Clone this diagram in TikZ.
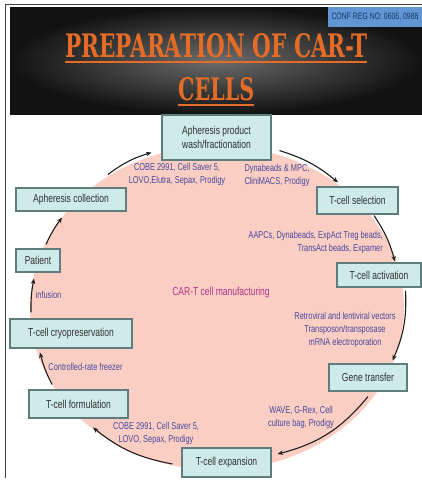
\documentclass[tikz,border=0pt]{standalone}
\usepackage{fontspec}
\usepackage{graphicx}
\usetikzlibrary{arrows.meta}
\newfontfamily\labf[FakeStretch=0.74]{Liberation Sans}
\newfontfamily\titlef{DejaVu Serif}
\definecolor{pinkc}{RGB}{250,206,194}
\definecolor{boxfill}{RGB}{206,234,233}
\definecolor{boxline}{RGB}{95,125,125}
\definecolor{boxtext}{RGB}{50,50,50}
\definecolor{labc}{RGB}{72,72,160}
\definecolor{magc}{RGB}{176,52,140}
\definecolor{arrc}{RGB}{30,30,30}
\definecolor{orangec}{RGB}{228,108,38}
\definecolor{confc}{RGB}{96,150,212}
\definecolor{conft}{RGB}{28,52,100}
\begin{document}
\begin{tikzpicture}[x=1pt,y=-1pt,
  box/.style={draw=boxline, fill=boxfill, line width=1.1pt, inner sep=0pt, text=boxtext,
    font=\labf\fontsize{11.5}{14}\selectfont, align=center},
  lab/.style={text=labc, font=\labf\fontsize{10}{13}\selectfont, align=center, inner sep=0pt},
  arr/.style={-{Stealth[length=5.5pt,width=4.5pt]}, line width=1.1pt, draw=arrc}]
\useasboundingbox (0,0) rectangle (422,480);
\fill[white] (0,0) rectangle (422,480);
% frame
\draw[line width=0.8pt, black!75] (5,478) -- (5,4) -- (422,4);
% header
\shade[inner color={rgb,255:red,108;green,108;blue,108}, outer color={rgb,255:red,18;green,18;blue,18}] (10,7) rectangle (422,114);
\node[fill=confc, minimum width=94pt, minimum height=20pt, inner sep=0pt] (conf) at (375,17)
  {\resizebox{87pt}{6.5pt}{\color{conft}\labf CONF REG NO: 0606, 0988}};
\node[anchor=base west, inner sep=0pt, text=orangec] (t1) at (65,57)
  {\resizebox{302pt}{24pt}{\titlef\bfseries PREPARATION OF CAR-T}};
\node[anchor=base west, inner sep=0pt, text=orangec] (t2) at (178,100)
  {\resizebox{76pt}{23pt}{\titlef\bfseries CELLS}};
\draw[orangec, line width=1.5pt] ([yshift=-5pt]t1.base west) -- ([yshift=-5pt]t1.base east);
\draw[orangec, line width=1.5pt] ([yshift=-5pt]t2.base west) -- ([yshift=-5pt]t2.base east);
% pink area
\fill[pinkc] (217,308) ellipse [x radius=187pt, y radius=162pt];
% boxes
\node[box, minimum width=109pt, minimum height=45pt] (prod) at (216.5,137.5) {Apheresis product\\wash/fractionation};
\node[box, minimum width=81pt, minimum height=27pt] (sel) at (357.5,200.5) {T-cell selection};
\node[box, minimum width=84pt, minimum height=24pt] (act) at (379,275) {T-cell activation};
\node[box, minimum width=78pt, minimum height=27pt] (gene) at (368,377.5) {Gene transfer};
\node[box, minimum width=89pt, minimum height=29pt] (exp) at (226.5,462.5) {T-cell expansion};
\node[box, minimum width=99pt, minimum height=28pt] (form) at (78.5,404) {T-cell formulation};
\node[box, minimum width=122pt, minimum height=29pt] (cryo) at (71,333.5) {T-cell cryopreservation};
\node[box, minimum width=44pt, minimum height=23pt] (patient) at (38,260.5) {Patient};
\node[box, minimum width=110pt, minimum height=23pt] (coll) at (71,199.5) {Apheresis collection};
% labels
\node[lab] (l1) at (177,174.5) {COBE 2991, Cell Saver 5,\\LOVO,Elutra, Sepax, Prodigy};
\node[lab] (l2) at (277,175) {Dynabeads \& MPC,\\CliniMACS, Prodigy};
\node[lab, align=right, anchor=east] (l3) at (383,242.5) {AAPCs, Dynabeads, ExpAct Treg beads,\\TransAct beads, Expamer};
\node[lab] (l4) at (345,330) {Retroviral and lentiviral vectors\\Transposon/transposase\\mRNA electroporation};
\node[lab] (l5) at (301,417) {WAVE, G-Rex, Cell\\culture bag, Prodigy};
\node[lab] (l6) at (156,433.5) {COBE 2991, Cell Saver 5,\\LOVO, Sepax, Prodigy};
\node[lab] (l7) at (85.5,367) {Controlled-rate freezer};
\node[lab] (l8) at (48.5,295) {infusion};
\node[text=magc, font=\labf\fontsize{11.5}{14}\selectfont, inner sep=0pt] (center) at (221,293) {CAR-T cell manufacturing};
% arrows
\draw[arr] ([shift={(37,-13)}]coll.north) to[bend left=10] ([shift={(-10,-8)}]prod.south west);
\draw[arr] ([shift={(8,-10)}]prod.south east) to[bend left=11] ([shift={(-19.5,-4)}]sel.north);
\draw[arr] ([shift={(16.5,1)}]sel.south) to[bend left=9] ([shift={(16,-1)}]act.north);
\draw[arr] ([shift={(-16,3)}]act.south east) to[bend left=13] ([shift={(-15,-3)}]gene.north east);
\draw[arr] ([shift={(0,5)}]gene.south) to[bend left=18] ([shift={(6,-8.5)}]exp.east);
\draw[arr] ([shift={(-9,1.5)}]exp.west) to[bend left=14] ([shift={(14.5,9)}]form.south);
\draw[arr] ([shift={(-26.5,-5)}]form.north) to[bend left=6] ([shift={(-31,4)}]cryo.south);
\draw[arr] ([shift={(-40,-6)}]cryo.north) to[bend left=6] ([shift={(-4,6)}]patient.south);
\draw[arr] ([shift={(8,-4)}]patient.north) to[bend left=6] ([shift={(-9,6)}]coll.south);
\end{tikzpicture}
\end{document}
